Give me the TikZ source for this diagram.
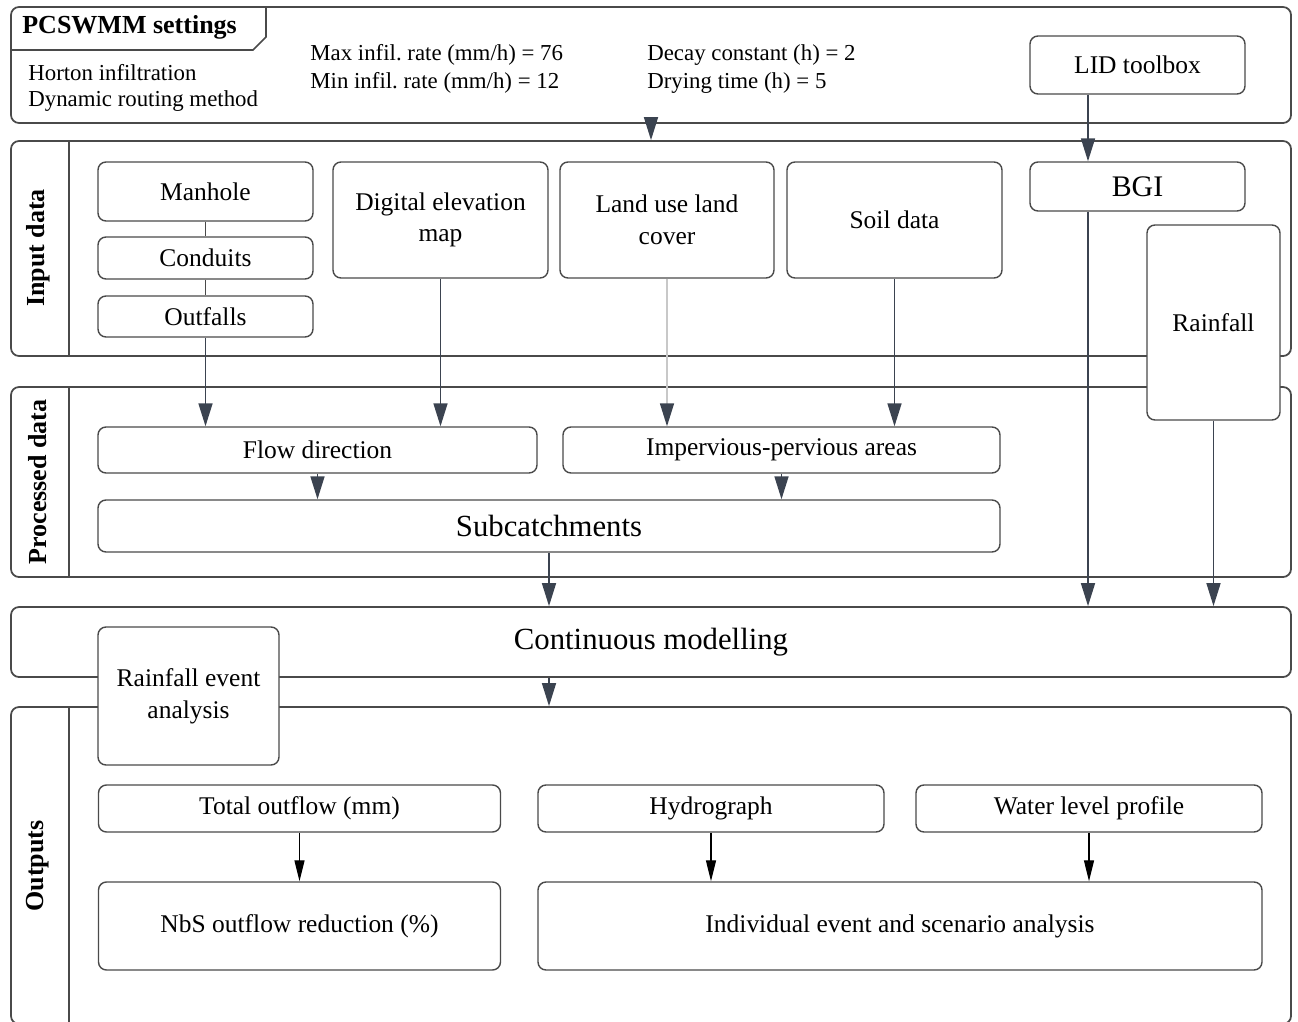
\documentclass[tikz,border=0pt]{standalone}
\usepackage{fontspec}
\setmainfont{Liberation Serif}
\usetikzlibrary{arrows.meta}
\definecolor{linegrey}{HTML}{4A4A4A}
\definecolor{arrowgrey}{HTML}{3B4350}
\definecolor{lightline}{HTML}{C8C8C8}
\frenchspacing

\begin{document}
\begin{tikzpicture}[x=0.02cm, y=-0.02cm,
  panel/.style 2 args={draw=linegrey, line width=1pt, rounded corners=0.16cm, minimum width=#1*0.02cm, minimum height=#2*0.02cm, inner sep=0pt},
  panelline/.style={draw=linegrey, line width=1pt},
  databox/.style 2 args={draw=linegrey, line width=0.8pt, rounded corners=0.16cm, fill=white, minimum width=#1*0.02cm, minimum height=#2*0.02cm, inner sep=0pt, align=center, font=\fontsize{14.5}{18}\selectfont},
  bigtext/.style={font=\fontsize{17.5}{21}\selectfont},
  sidelabel/.style={rotate=90, font=\bfseries\fontsize{14.8}{17}\selectfont},
  settext/.style={anchor=west, inner sep=0pt, font=\fontsize{13}{15}\selectfont},
  joinline/.style={draw=linegrey, line width=0.8pt},
  arr/.style={draw=arrowgrey, line width=0.9pt, -{Triangle[length=0.46cm, width=0.28cm, color=arrowgrey]}},
  blackarr/.style={draw=black, line width=0.7pt, -{Triangle[length=0.42cm, width=0.2cm]}}
]
  \clip (0,0) rectangle (1298,1021);

  % panels
  \node[panel={1280}{116}] (settings) at (651,65) {};
  \node[panel={1280}{215}] (input) at (651,248.5) {};
  \node[panel={1280}{190}] (processed) at (651,482) {};
  \node[panel={1280}{70}, bigtext] (modelling) at (651,642) {Continuous modelling};
  \node[panel={1280}{317}] (outputs) at (651,865.5) {};

  \coordinate (divx) at (69,0);
  \draw[panelline] (input.north -| divx) -- (input.south -| divx);
  \draw[panelline] (processed.north -| divx) -- (processed.south -| divx);
  \draw[panelline] (outputs.north -| divx) -- (outputs.south -| divx);

  \node[sidelabel] (inputlabel) at (38,248) {Input data};
  \node[sidelabel] (processedlabel) at (38,482) {Processed data};
  \node[sidelabel] (outputslabel) at (38,866) {Outputs};

  % settings
  \draw[panelline] (11,50) -- (253,50) -- (266,37) -- (266,7);
  \node[settext, font=\bfseries\fontsize{14.8}{17}\selectfont] (settingstitle) at (22,27) {PCSWMM settings};
  \node[settext] (horton) at (28,73) {Horton infiltration};
  \node[settext] (routing) at (28,101) {Dynamic routing method};
  \node[settext] (maxrate) at (310,55) {Max infil. rate (mm/h) = 76};
  \node[settext] (minrate) at (310,83) {Min infil. rate (mm/h) = 12};
  \node[settext] (decay) at (647,55) {Decay constant (h) = 2};
  \node[settext] (drying) at (647,83) {Drying time (h) = 5};
  \node[databox={215}{58}] (lid) at (1137.5,65) {LID toolbox};

  % input data
  \node[databox={215}{59}] (manhole) at (205.5,191.5) {Manhole};
  \node[databox={215}{42}] (conduits) at (205.5,258) {Conduits};
  \node[databox={215}{41}] (outfalls) at (205.5,316.5) {Outfalls};
  \node[databox={215}{116}] (dem) at (440.5,220) {Digital elevation\\map};
  \node[databox={214}{116}] (landuse) at (667,220) {Land use land\\cover};
  \node[databox={215}{116}] (soil) at (894.5,220) {Soil data};
  \node[databox={215}{49}, font=\fontsize{17}{20}\selectfont] (bgi) at (1137.5,186.5) {BGI};
  \node[databox={133}{195}] (rainfall) at (1213.5,322.5) {Rainfall};

  % processed data
  \node[databox={439}{46}] (flowdir) at (317.5,450) {Flow direction};
  \node[databox={437}{46}] (imperv) at (781.5,450) {Impervious-pervious areas};
  \node[databox={902}{52}, bigtext] (subcatch) at (549,526) {Subcatchments};

  % outputs
  \node[databox={181}{138}] (eventanalysis) at (188.5,696) {Rainfall event\\analysis};
  \node[databox={402}{47}] (totaloutflow) at (299.5,808.5) {Total outflow (mm)};
  \node[databox={346}{47}] (hydrograph) at (711,808.5) {Hydrograph};
  \node[databox={346}{47}] (waterlevel) at (1089,808.5) {Water level profile};
  \node[databox={402}{88}] (nbs) at (299.5,926) {NbS outflow reduction (\%)};
  \node[databox={724}{88}] (scenario) at (900,926) {Individual event and scenario analysis};

  % connectors
  \draw[joinline] (manhole) -- (conduits);
  \draw[joinline] (conduits) -- (outfalls);
  \draw[arr] (settings.south) -- (input.north);
  \coordinate (bgix) at (1088,0);
  \draw[arr] (lid.south -| bgix) -- (bgi.north -| bgix);
  \draw[arr] (bgi.south -| bgix) -- (modelling.north -| bgix);
  \draw[arr] (rainfall.south) -- (rainfall.south |- modelling.north);
  \draw[arr] (outfalls.south) -- (outfalls.south |- flowdir.north);
  \draw[arr] (dem.south) -- (dem.south |- flowdir.north);
  \draw[arr, draw=lightline] (landuse.south) -- (landuse.south |- imperv.north);
  \draw[arr] (soil.south) -- (soil.south |- imperv.north);
  \draw[arr] (flowdir.south) -- (flowdir.south |- subcatch.north);
  \draw[arr] (imperv.south) -- (imperv.south |- subcatch.north);
  \draw[arr] (subcatch.south) -- (subcatch.south |- modelling.north);
  \draw[arr] (modelling.south -| subcatch) -- (outputs.north -| subcatch);
  \draw[blackarr] (totaloutflow.south) -- (nbs.north);
  \draw[blackarr] (hydrograph.south) -- (hydrograph.south |- scenario.north);
  \draw[blackarr] (waterlevel.south) -- (waterlevel.south |- scenario.north);
\end{tikzpicture}
\end{document}
